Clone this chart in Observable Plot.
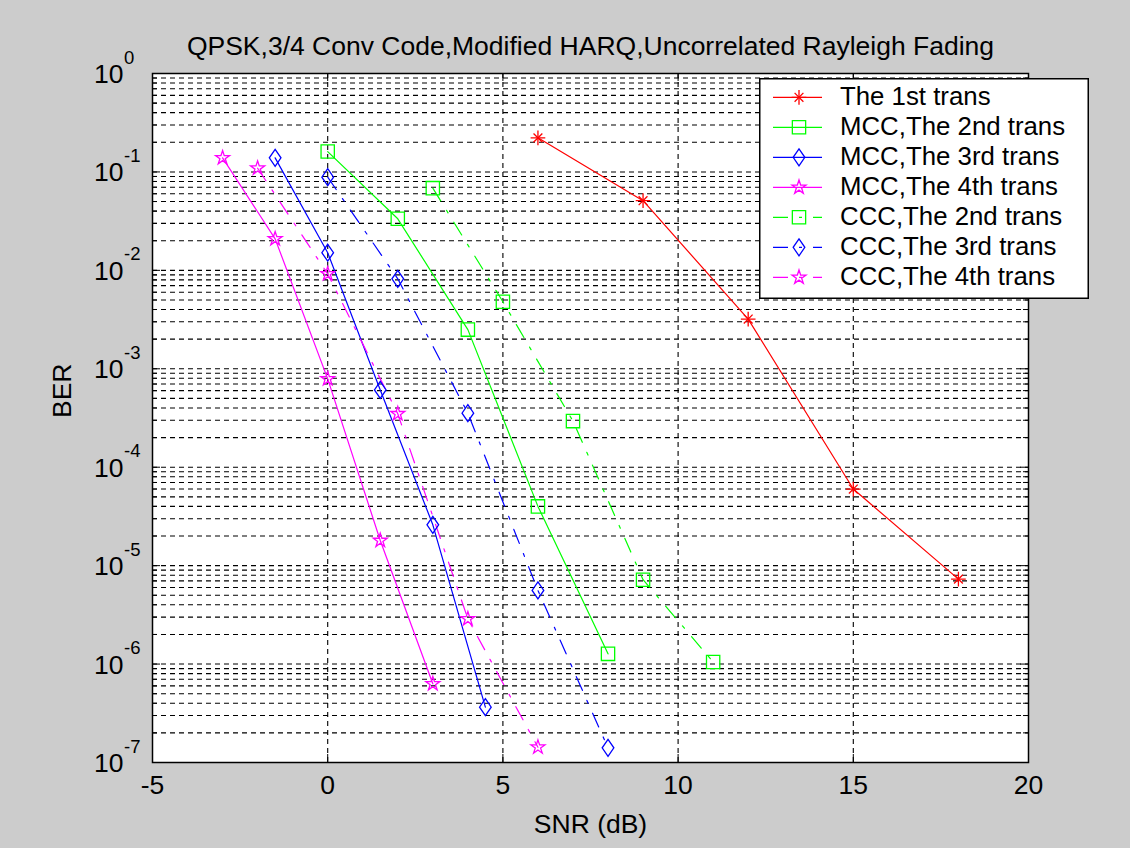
<!DOCTYPE html>
<html><head><meta charset="utf-8">
<script src="https://cdn.jsdelivr.net/npm/d3@7"></script>
<script src="https://cdn.jsdelivr.net/npm/@observablehq/plot@0.6"></script>
<style>
html,body{margin:0;padding:0;background:#cccccc;}
#wrap{position:relative;width:1130px;height:848px;font-family:"Liberation Sans",Arial,sans-serif;}
#legend{position:absolute;left:759px;top:78px;}
</style></head><body><div id="wrap"></div>
<script>
// ---- text ----
const chartTitle = "QPSK,3/4 Conv Code,Modified HARQ,Uncorrelated Rayleigh Fading";
const xLabel = "SNR (dB)";
const yLabel = "BER";
const xTicks = [-5, 0, 5, 10, 15, 20];
const yTickExponents = [0, -1, -2, -3, -4, -5, -6, -7];
const seriesNames = ["The 1st trans", "MCC,The 2nd trans", "MCC,The 3rd trans", "MCC,The 4th trans",
                     "CCC,The 2nd trans", "CCC,The 3rd trans", "CCC,The 4th trans"];

// ---- data (SNR dB, BER) ----
const snr1st  = [6, 9, 12, 15, 18];
const ber1st  = [0.222, 0.051, 3.2e-3, 6.0e-5, 7.3e-6];
const snrMcc2 = [0, 2, 4, 6, 8];
const berMcc2 = [0.161, 0.0334, 2.5e-3, 4.0e-5, 1.27e-6];
const snrMcc3 = [-1.5, 0, 1.5, 3, 4.5];
const berMcc3 = [0.139, 0.0151, 6.1e-4, 2.6e-5, 3.65e-7];
const snrMcc4 = [-3, -1.5, 0, 1.5, 3];
const berMcc4 = [0.139, 0.0209, 7.9e-4, 1.8e-5, 6.3e-7];
const snrCcc2 = [3, 5, 7, 9, 11];
const berCcc2 = [0.0684, 4.8e-3, 2.94e-4, 7.2e-6, 1.05e-6];
const snrCcc3 = [0, 2, 4, 6, 8];
const berCcc3 = [0.0885, 8.2e-3, 3.54e-4, 5.6e-6, 1.41e-7];
const snrCcc4 = [-2, 0, 2, 4, 6];
const berCcc4 = [0.109, 9.2e-3, 3.49e-4, 2.88e-6, 1.43e-7];

// ---- styles ----
const seriesSnr = [snr1st, snrMcc2, snrMcc3, snrMcc4, snrCcc2, snrCcc3, snrCcc4];
const seriesBer = [ber1st, berMcc2, berMcc3, berMcc4, berCcc2, berCcc3, berCcc4];
const seriesColors = ["#ff0000", "#00ff00", "#0000ff", "#ff00ff", "#00ff00", "#0000ff", "#ff00ff"];
const seriesSymbols = ["asterisk", "square", "diamond", "star", "square", "diamond", "star"];
const dashDot = "15,11,3,11";
const seriesDash = [null, null, null, null, dashDot, dashDot, dashDot];
const symbolR = {square: 7.5, diamond: 5.3, star: 4.4, asterisk: 4.8};

// MATLAB-like diamond (wider than d3's)
const matlabDiamond = {
  draw(ctx, size) {
    const r = Math.sqrt(size / Math.PI);
    const hh = 1.6 * r, hw = 1.1 * r;
    ctx.moveTo(0, -hh); ctx.lineTo(hw, 0); ctx.lineTo(0, hh); ctx.lineTo(-hw, 0); ctx.closePath();
  }
};

const FONT = '"Liberation Sans", Arial, sans-serif';
const FS = 26.5;
const W = 1130, H = 848, ML = 152, MR = 102, MT = 73, MB = 86;
const PW = W - ML - MR, PH = H - MT - MB;

const rows = seriesNames.map((name, i) => seriesSnr[i].map((s, j) => ({series: i, name, snr: s, ber: seriesBer[i][j]})));

const gridY = [];
for (let e = -7; e <= -1; e++) for (let m = 1; m <= 9; m++) if (!(e === -7 && m === 1)) gridY.push(m * 10 ** e);
const majorY = yTickExponents.map(e => 10 ** e);
const minorY = gridY.filter(v => !majorY.some(M => Math.abs(v / M - 1) < 1e-9));

const symbolFor = s => (s === "diamond" ? matlabDiamond : s);

const marks = [
  Plot.frame({fill: "white"}),
  Plot.ruleY(gridY, {stroke: "black", strokeWidth: 1.1, strokeDasharray: "5,4"}),
  Plot.ruleX(xTicks.slice(1, -1), {stroke: "black", strokeWidth: 1.1, strokeDasharray: "5,4"}),
  // inward ticks on all four sides
  Plot.tickY(majorY, {y: d => d, stroke: "black", insetRight: PW - 8}),
  Plot.tickY(majorY, {y: d => d, stroke: "black", insetLeft: PW - 8}),
  Plot.tickY(minorY, {y: d => d, stroke: "black", insetRight: PW - 5}),
  Plot.tickY(minorY, {y: d => d, stroke: "black", insetLeft: PW - 5}),
  Plot.tickX(xTicks, {x: d => d, stroke: "black", insetTop: PH - 8}),
  Plot.tickX(xTicks, {x: d => d, stroke: "black", insetBottom: PH - 8}),
];
rows.forEach((data, i) => {
  marks.push(Plot.line(data, {x: "snr", y: "ber", stroke: seriesColors[i], strokeWidth: 1.2,
    strokeDasharray: seriesDash[i] || undefined}));
});
rows.forEach((data, i) => {
  const sym = seriesSymbols[i];
  if (sym === "asterisk") {
    marks.push(Plot.dot(data, {x: "snr", y: "ber", symbol: "plus", r: symbolR.asterisk, stroke: seriesColors[i], strokeWidth: 1.3}));
    marks.push(Plot.dot(data, {x: "snr", y: "ber", symbol: "times", r: symbolR.asterisk * 0.85, stroke: seriesColors[i], strokeWidth: 1.3}));
  } else {
    marks.push(Plot.dot(data, {x: "snr", y: "ber", symbol: symbolFor(sym), r: symbolR[sym], stroke: seriesColors[i], fill: "none", strokeWidth: 1.3}));
  }
});
marks.push(
  Plot.frame({stroke: "black", strokeWidth: 1.5}),
  // tick labels
  Plot.text(xTicks, {x: d => d, frameAnchor: "bottom", text: d => String(d), lineAnchor: "bottom", dy: 31, fontSize: FS, fill: "black"}),
  Plot.text(yTickExponents, {y: e => 10 ** e, frameAnchor: "left", text: () => "10", textAnchor: "end", lineAnchor: "bottom", dx: -29, dy: 9.5, fontSize: FS, fill: "black"}),
  Plot.text(yTickExponents, {y: e => 10 ** e, frameAnchor: "left", text: e => String(e), textAnchor: "start", lineAnchor: "bottom", dx: -28.5, dy: -10, fontSize: 18.5, fill: "black"}),
  // title & axis labels
  Plot.text([chartTitle], {frameAnchor: "top", text: d => d, lineAnchor: "bottom", dy: -19, fontSize: FS, fill: "black"}),
  Plot.text([xLabel], {frameAnchor: "bottom", text: d => d, lineAnchor: "bottom", dy: 70, fontSize: FS, fill: "black"}),
  Plot.text([yLabel], {frameAnchor: "left", text: d => d, lineAnchor: "bottom", rotate: -90, dx: -81.5, fontSize: FS, fill: "black"})
);

const chart = Plot.plot({
  width: W, height: H,
  marginLeft: ML, marginRight: MR, marginTop: MT, marginBottom: MB,
  style: {background: "#cccccc", fontFamily: FONT, fontSize: FS + "px", color: "black", overflow: "visible"},
  x: {domain: [-5, 20], axis: null},
  y: {type: "log", domain: [1e-7, 1], axis: null},
  marks
});
document.getElementById("wrap").appendChild(chart);

// ---- legend (MATLAB-style box) ----
const LW = 330, LH = 221;
const leg = d3.select("#wrap").append("svg").attr("id", "legend")
  .attr("width", LW).attr("height", LH)
  .style("font-family", FONT).style("font-size", "25.8px");
leg.append("rect").attr("x", 0.75).attr("y", 0.75).attr("width", LW - 1.5).attr("height", LH - 1.5)
  .attr("fill", "white").attr("stroke", "black").attr("stroke-width", 1.5);
const d3sym = {square: d3.symbolSquare, diamond: matlabDiamond, star: d3.symbolStar, plus: d3.symbolPlus, times: d3.symbolTimes};
seriesNames.forEach((name, i) => {
  const cy = 19.3 + 30 * i;
  const g = leg.append("g");
  g.append("line").attr("x1", 14).attr("x2", 63).attr("y1", cy).attr("y2", cy)
    .attr("stroke", seriesColors[i]).attr("stroke-width", 1.2)
    .attr("stroke-dasharray", seriesDash[i] || null);
  const sym = seriesSymbols[i];
  const drawSym = (type, r) => g.append("path")
    .attr("d", d3.symbol(d3sym[type], Math.PI * r * r)())
    .attr("transform", `translate(40,${cy})`)
    .attr("fill", "none").attr("stroke", seriesColors[i]).attr("stroke-width", 1.3);
  if (sym === "asterisk") { drawSym("plus", symbolR.asterisk); drawSym("times", symbolR.asterisk * 0.85); }
  else drawSym(sym, symbolR[sym]);
  g.append("text").attr("x", 81).attr("y", cy + 8).attr("fill", "black").text(name);
});
</script>
</body></html>
